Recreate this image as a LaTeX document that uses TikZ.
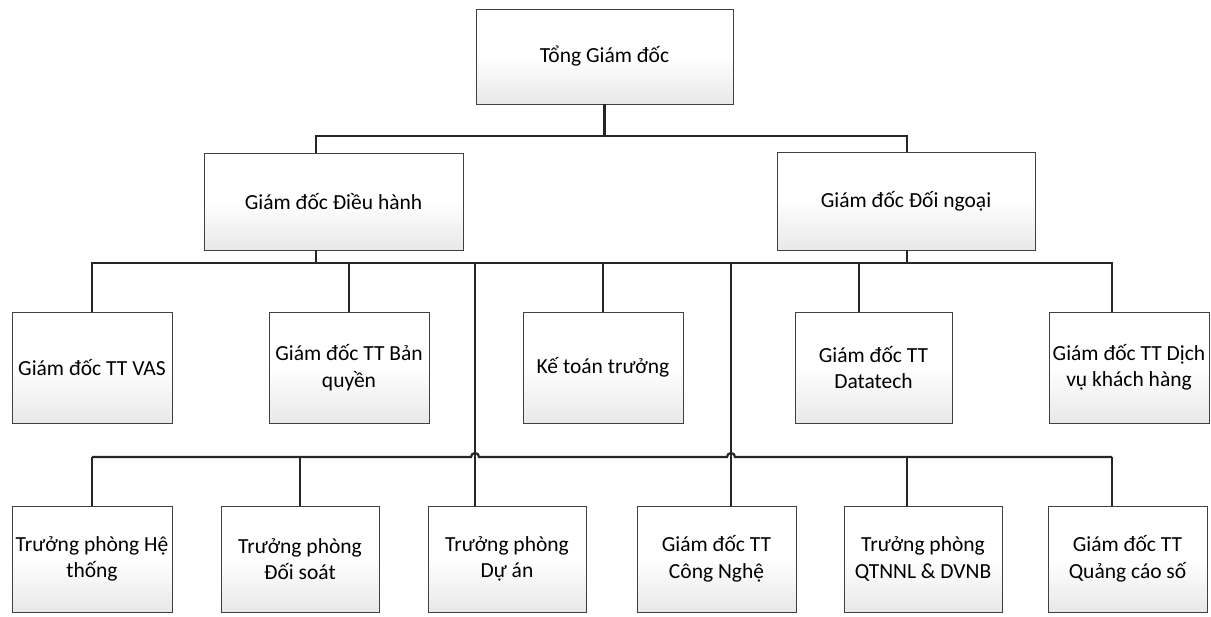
\documentclass[tikz,border=0pt]{standalone}
\usepackage{fontspec}
\setmainfont{Carlito}
\begin{document}
\begin{tikzpicture}[x=1pt,y=-1pt,
  box/.style={draw=black!75, line width=0.9pt, rectangle, inner sep=1pt, align=center,
    font=\fontsize{21.5}{26.5}\selectfont, top color=white, bottom color=black!9, middle color=white},
  link/.style={draw=black!85, line width=2.2pt}]
\useasboundingbox (0,0) rectangle (1211,617);
% level 1
\node[box, minimum width=257pt, minimum height=95pt] (tgd) at (604.5,56.5) {Tổng Giám đốc};
% level 2
\node[box, minimum width=259pt, minimum height=97pt] (dh) at (333.5,201.5) {Giám đốc Điều hành};
\node[box, minimum width=258pt, minimum height=98pt] (dn) at (906,201) {Giám đốc Đối ngoại};
% level 3
\node[box, minimum width=160pt, minimum height=111pt] (vas) at (92,367.5) {Giám đốc TT VAS};
\node[box, minimum width=160pt, minimum height=111pt] (bq) at (349,367.5) {Giám đốc TT Bản\\quyền};
\node[box, minimum width=160pt, minimum height=111pt] (kt) at (603,367.5) {Kế toán trưởng};
\node[box, minimum width=157pt, minimum height=111pt] (dt) at (873.5,367.5) {Giám đốc TT\\Datatech};
\node[box, minimum width=160pt, minimum height=111pt] (dv) at (1129,367.5) {Giám đốc TT Dịch\\vụ khách hàng};
% level 4
\node[box, minimum width=160pt, minimum height=106pt] (ht) at (92,559) {Trưởng phòng Hệ\\thống};
\node[box, minimum width=158pt, minimum height=106pt] (ds) at (300,559) {Trưởng phòng\\Đối soát};
\node[box, minimum width=158pt, minimum height=106pt] (da) at (507,559) {Trưởng phòng\\Dự án};
\node[box, minimum width=159pt, minimum height=106pt] (cn) at (716.5,559) {Giám đốc TT\\Công Nghệ};
\node[box, minimum width=158pt, minimum height=106pt] (ql) at (923,559) {Trưởng phòng\\QTNNL \& DVNB};
\node[box, minimum width=159pt, minimum height=106pt] (qc) at (1127.5,559) {Giám đốc TT\\Quảng cáo số};
% bar coordinates
\coordinate (b1L) at (316,136);
\coordinate (b1R) at (907,136);
\coordinate (b2L) at (92,263);
\coordinate (b2R) at (1112,263);
\coordinate (v859) at (859,263);
\coordinate (v475) at (475,263);
\coordinate (v731) at (731,263);
\coordinate (b3L) at (92,457);
\coordinate (b3R) at (1112,457);
\coordinate (h1) at (471,457);
\coordinate (h2) at (727,457);
\coordinate (v907) at (907,457);
% connectors level 1-2
\draw[link] (tgd.south) -- (tgd.south |- b1L);
\draw[link] (dh.north -| b1L) -- (b1L) -- (b1R) -- (dn.north -| b1R);
% connectors level 2-3
\draw[link] (dh.south -| b1L) -- (b1L |- b2L);
\draw[link] (dn.south -| b1R) -- (b1R |- b2L);
\draw[link] (vas.north) -- (b2L) -- (b2R) -- (dv.north -| b2R);
\draw[link] (bq.north) -- (bq.north |- b2L);
\draw[link] (kt.north) -- (kt.north |- b2L);
\draw[link] (v859) -- (dt.north -| v859);
\draw[link] (v475) -- (da.north -| v475);
\draw[link] (v731) -- (cn.north -| v731);
% level 4 bar with hops
\draw[link] (b3L) -- (h1) arc[start angle=180, end angle=360, radius=4]
  -- (h2) arc[start angle=180, end angle=360, radius=4] -- (b3R);
\draw[link] (ht.north) -- (b3L);
\draw[link] (ds.north) -- (ds.north |- b3L);
\draw[link] (v907) -- (ql.north -| v907);
\draw[link] (b3R) -- (qc.north -| b3R);
\end{tikzpicture}
\end{document}
